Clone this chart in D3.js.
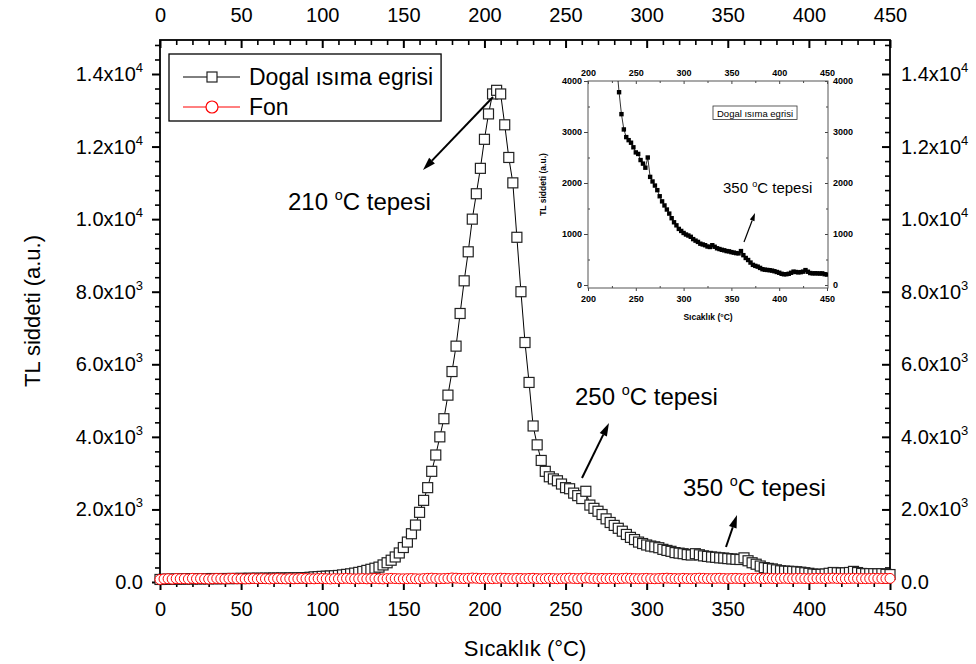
<!DOCTYPE html>
<html><head><meta charset="utf-8">
<script src="https://cdn.jsdelivr.net/npm/d3@7"></script>
<style>body{margin:0;background:#fff} text{font-family:"Liberation Sans",Arial,sans-serif;fill:#000}</style>
</head><body><svg id="c" width="976" height="664"></svg>
<script>
// ---------- DATA ----------
const temperatures = [
0,2.5,5,7.5,10,12.5,15,17.5,20,22.5,
25,27.5,30,32.5,35,37.5,40,42.5,45,47.5,
50,52.5,55,57.5,60,62.5,65,67.5,70,72.5,
75,77.5,80,82.5,85,87.5,90,92.5,95,97.5,
100,102.5,105,107.5,110,112.5,115,117.5,120,122.5,
125,127.5,130,132.5,135,137.5,140,142.5,145,147.5,
150,152.5,155,157.5,160,162.5,165,167.5,170,172.5,
175,177.5,180,182.5,185,187.5,190,192.5,195,197.5,
200,202.5,205,207.5,210,212.5,215,217.5,220,222.5,
225,227.5,230,232.5,235,237.5,240,242.5,245,247.5,
250,252.5,255,257.5,260,262.5,265,267.5,270,272.5,
275,277.5,280,282.5,285,287.5,290,292.5,295,297.5,
300,302.5,305,307.5,310,312.5,315,317.5,320,322.5,
325,327.5,330,332.5,335,337.5,340,342.5,345,347.5,
350,352.5,355,357.5,360,362.5,365,367.5,370,372.5,
375,377.5,380,382.5,385,387.5,390,392.5,395,397.5,
400,402.5,405,407.5,410,412.5,415,417.5,420,422.5,
425,427.5,430,432.5,435,437.5,440,442.5,445,447.5,
450];
const dogalIsimaEgrisi = [
70,75,72,80,78,85,82,88,84,90,
86,92,88,95,90,93,96,94,98,95,
100,97,102,99,104,100,105,103,108,104,
110,107,112,110,115,118,120,130,140,148,
155,160,165,172,180,195,210,225,245,265,
290,320,350,380,410,470,530,600,690,800,
950,1100,1330,1570,1920,2250,2600,3050,3500,4000,
4500,5150,5800,6500,7400,8300,9100,10000,10700,11400,
12200,12900,13450,13550,13450,12600,11700,11000,9500,8000,
6600,5500,4300,3780,3350,3050,2900,2840,2790,2700,
2600,2570,2450,2380,2300,2500,2120,2030,1950,1860,
1740,1640,1560,1480,1400,1310,1230,1170,1100,1060,
1020,990,970,945,900,870,845,810,795,780,
755,745,780,750,720,705,690,680,665,660,
645,635,625,620,665,585,530,490,440,395,
375,360,335,310,300,295,290,282,270,255,
240,220,210,212,220,240,262,255,248,252,
262,292,260,235,228,230,228,225,228,212,
205];
const fon = [
70,85,90,80,95,88,92,85,100,90,
95,88,82,90,98,92,86,95,100,88,
92,85,90,96,88,94,90,85,92,98,
90,86,94,88,92,100,95,90,88,94,
96,90,85,92,88,95,100,92,86,90,
95,88,92,98,90,86,94,100,95,90,
88,92,96,90,85,94,100,105,98,92,
95,100,110,105,98,94,100,108,104,96,
100,95,92,98,104,100,96,92,100,96,
92,98,102,95,90,96,100,94,90,96,
100,105,98,94,100,108,102,96,92,98,
95,100,96,92,98,104,100,95,92,96,
100,94,90,96,100,105,98,95,92,100,
96,92,98,104,100,96,94,98,102,96,
92,98,100,95,90,96,100,104,98,94,
100,96,92,98,102,96,92,98,100,95,
92,96,100,98,94,100,104,98,95,92,
96,100,98,94,92,96,100,98,95,96,
98];
const xTicks = [0,50,100,150,200,250,300,350,400,450];
const yTicks = [0,2000,4000,6000,8000,10000,12000,14000];
const yTickBase = ["0.0","2.0x10","4.0x10","6.0x10","8.0x10","1.0x10","1.2x10","1.4x10"];
const yTickExp  = ["","3","3","3","3","4","4","4"];
const insetXTicks = [200,250,300,350,400,450];
const insetYTicks = [0,1000,2000,3000,4000];
const seriesNames = ["Dogal \u0131s\u0131ma egrisi","Fon"];
const xTitle = "S\u0131cakl\u0131k (\u00B0C)";
const yTitle = "TL siddeti (a.u.)";
const annotations = [
  {num:"210", x:288, y:210, ax1:493, ay1:97, ax2:423, ay2:170},
  {num:"250", x:575, y:405, ax1:582, ay1:478, ax2:609, ay2:423},
  {num:"350", x:683, y:496, ax1:726, ay1:547, ax2:737, ay2:515}
];

// ---------- CHART ----------
const svg = d3.select("#c");
const dogal = temperatures.map((t,i)=>({t, v:dogalIsimaEgrisi[i]}));
const fonData = temperatures.map((t,i)=>({t, v:fon[i]}));

const L=160, R=890, T=40, B=582;
const x = d3.scaleLinear().domain([0,450]).range([L,R]);
const y = d3.scaleLinear().domain([0,14000]).range([B,74]);

svg.append("defs").append("clipPath").attr("id","clipMain")
  .append("rect").attr("x",L-6).attr("y",T).attr("width",R-L+12).attr("height",B-T+6);

function styleAxis(g, sw){
  g.select(".domain").remove();
  g.selectAll("line").attr("stroke","#000").attr("stroke-width",sw);
  g.selectAll("text").style("font-size","20px").style("font-family","'Liberation Sans',Arial,sans-serif").attr("fill","#000");
  return g;
}
const xMinor = d3.range(0,451,10).filter(v=>v%50!==0);
const yMinor = d3.range(0,14900,400).filter(v=>v%2000!==0);

// bottom
styleAxis(svg.append("g").attr("transform",`translate(0,${B})`)
  .call(d3.axisBottom(x).tickValues(xTicks).tickSize(8).tickPadding(12).tickFormat(d=>d)),2);
styleAxis(svg.append("g").attr("transform",`translate(0,${B})`)
  .call(d3.axisBottom(x).tickValues(xMinor).tickSize(5).tickFormat("")),1.6);
// top
styleAxis(svg.append("g").attr("transform",`translate(0,${T})`)
  .call(d3.axisTop(x).tickValues(xTicks).tickSizeInner(-8).tickSizeOuter(0).tickPadding(18).tickFormat(d=>d)),2);
styleAxis(svg.append("g").attr("transform",`translate(0,${T})`)
  .call(d3.axisTop(x).tickValues(xMinor).tickSizeInner(-5).tickSizeOuter(0).tickFormat("")),1.6);
// left
styleAxis(svg.append("g").attr("transform",`translate(${L},0)`)
  .call(d3.axisLeft(y).tickValues(yTicks).tickSize(8).tickFormat("")),2);
styleAxis(svg.append("g").attr("transform",`translate(${L},0)`)
  .call(d3.axisLeft(y).tickValues(yMinor).tickSize(5).tickFormat("")),1.6);
// right
styleAxis(svg.append("g").attr("transform",`translate(${R},0)`)
  .call(d3.axisRight(y).tickValues(yTicks).tickSizeInner(-8).tickSizeOuter(0).tickFormat("")),2);
styleAxis(svg.append("g").attr("transform",`translate(${R},0)`)
  .call(d3.axisRight(y).tickValues(yMinor).tickSizeInner(-5).tickSizeOuter(0).tickFormat("")),1.6);

function yLabel(g, v, i, xpos, anchor){
  const t = g.append("text").attr("x",xpos).attr("y",y(v)+7).attr("text-anchor",anchor)
    .style("font-size","20px");
  t.append("tspan").text(yTickBase[i]);
  if(yTickExp[i]) t.append("tspan").attr("dy",-9).style("font-size","13px").text(yTickExp[i]);
}
const yl = svg.append("g");
yTicks.forEach((v,i)=>{ yLabel(yl,v,i,143,"end"); yLabel(yl,v,i,901,"start"); });

// frame
svg.append("rect").attr("x",L).attr("y",T).attr("width",R-L).attr("height",B-T)
  .attr("fill","none").attr("stroke","#000").attr("stroke-width",1.8);

// titles
svg.append("text").attr("x",(L+R)/2).attr("y",656).attr("text-anchor","middle")
  .style("font-size","22px").text(xTitle);
svg.append("text").attr("transform",`translate(40,${(T+B)/2}) rotate(-90)`).attr("text-anchor","middle")
  .style("font-size","22px").text(yTitle);

// data
const plot = svg.append("g").attr("clip-path","url(#clipMain)");
const line = d3.line().x(d=>x(d.t)).y(d=>y(d.v));
plot.append("path").datum(dogal).attr("d",line).attr("fill","none").attr("stroke","#000").attr("stroke-width",1);
plot.selectAll("rect.sq").data(dogal).join("rect").attr("class","sq")
  .attr("x",d=>x(d.t)-5).attr("y",d=>y(d.v)-5).attr("width",10).attr("height",10)
  .attr("fill","#fff").attr("stroke","#222").attr("stroke-width",1.2);
plot.append("path").datum(fonData).attr("d",line).attr("fill","none").attr("stroke","#ff0000").attr("stroke-width",1);
plot.selectAll("circle.fc").data(fonData).join("circle").attr("class","fc")
  .attr("cx",d=>x(d.t)).attr("cy",d=>y(d.v)).attr("r",5)
  .attr("fill","#fff").attr("stroke","#ff0000").attr("stroke-width",1);

// legend
const lg = svg.append("g");
const lbox = lg.append("rect").attr("x",169).attr("y",54).attr("height",67)
  .attr("fill","#fff").attr("stroke","#000").attr("stroke-width",1.3);
let maxEnd = 0;
seriesNames.forEach((name,i)=>{
  const cy = 77 + i*30;
  const col = i===0 ? "#000" : "#ff0000";
  lg.append("line").attr("x1",183).attr("x2",240).attr("y1",cy).attr("y2",cy).attr("stroke",col).attr("stroke-width",1);
  if(i===0) lg.append("rect").attr("x",207).attr("y",cy-5).attr("width",10).attr("height",10).attr("fill","#fff").attr("stroke","#222").attr("stroke-width",1.2);
  else lg.append("circle").attr("cx",212).attr("cy",cy).attr("r",6).attr("fill","#fff").attr("stroke","#ff0000").attr("stroke-width",1.2);
  const t = lg.append("text").attr("x",249).attr("y",cy+8).style("font-size","23px").text(name);
  maxEnd = Math.max(maxEnd, 249 + t.node().getComputedTextLength());
});
lbox.attr("width", maxEnd + 8 - 169);

// annotations
function arrow(g, x1,y1,x2,y2, len, w, sw){
  const a = Math.atan2(y2-y1,x2-x1);
  const bx = x2 - len*Math.cos(a), by = y2 - len*Math.sin(a);
  g.append("line").attr("x1",x1).attr("y1",y1).attr("x2",bx).attr("y2",by).attr("stroke","#000").attr("stroke-width",sw);
  const px = -Math.sin(a)*w/2, py = Math.cos(a)*w/2;
  g.append("path").attr("d",`M${x2},${y2}L${bx+px},${by+py}L${bx-px},${by-py}Z`).attr("fill","#000");
}
function degLabel(g, num, xp, yp, fs){
  const t = g.append("text").attr("x",xp).attr("y",yp).style("font-size",fs+"px");
  t.append("tspan").text(num+" ");
  t.append("tspan").attr("dy",-fs*0.42).style("font-size",(fs*0.6)+"px").text("o");
  t.append("tspan").attr("dy",fs*0.42).text("C tepesi");
}
const ann = svg.append("g");
annotations.forEach(a=>{
  degLabel(ann, a.num, a.x, a.y, 24);
  arrow(ann, a.ax1,a.ay1,a.ax2,a.ay2, 13, 8, 2);
});

// ---------- INSET ----------
const iL=588, iR=828, iT=81, iB=288;
const xi = d3.scaleLinear().domain([200,450]).range([iL,827]);
const yi = d3.scaleLinear().domain([0,4000]).range([285,iT]);
svg.select("defs").append("clipPath").attr("id","clipInset")
  .append("rect").attr("x",iL).attr("y",iT).attr("width",iR-iL).attr("height",iB-iT);
const ins = svg.append("g");
function styleInset(g){
  g.select(".domain").remove();
  g.selectAll("line").attr("stroke","#444").attr("stroke-width",1);
  g.selectAll("text").style("font-size","9px").style("font-weight","bold").attr("fill","#000");
  return g;
}
const xiMinor = [225,275,325,375,425];
const yiMinor = [500,1500,2500,3500];
styleInset(ins.append("g").attr("transform",`translate(0,${iB})`)
  .call(d3.axisBottom(xi).tickValues(insetXTicks).tickSize(3).tickPadding(5).tickFormat(d=>d)));
styleInset(ins.append("g").attr("transform",`translate(0,${iB})`)
  .call(d3.axisBottom(xi).tickValues(xiMinor).tickSizeInner(-2).tickSizeOuter(0).tickFormat("")));
styleInset(ins.append("g").attr("transform",`translate(0,${iT})`)
  .call(d3.axisTop(xi).tickValues(insetXTicks).tickSizeInner(-3).tickSizeOuter(0).tickPadding(5).tickFormat(d=>d)));
styleInset(ins.append("g").attr("transform",`translate(0,${iT})`)
  .call(d3.axisTop(xi).tickValues(xiMinor).tickSizeInner(-2).tickSizeOuter(0).tickFormat("")));
styleInset(ins.append("g").attr("transform",`translate(${iL},0)`)
  .call(d3.axisLeft(yi).tickValues(insetYTicks).tickSize(4).tickPadding(2).tickFormat(d=>d)));
styleInset(ins.append("g").attr("transform",`translate(${iL},0)`)
  .call(d3.axisLeft(yi).tickValues(yiMinor).tickSizeInner(-2).tickSizeOuter(0).tickFormat("")));
styleInset(ins.append("g").attr("transform",`translate(${iR},0)`)
  .call(d3.axisRight(yi).tickValues(insetYTicks).tickSizeInner(-3).tickSizeOuter(0).tickPadding(5).tickFormat(d=>d)));
styleInset(ins.append("g").attr("transform",`translate(${iR},0)`)
  .call(d3.axisRight(yi).tickValues(yiMinor).tickSizeInner(-2).tickSizeOuter(0).tickFormat("")));
ins.append("rect").attr("x",iL).attr("y",iT).attr("width",iR-iL).attr("height",iB-iT)
  .attr("fill","none").attr("stroke","#555").attr("stroke-width",1);
ins.append("text").attr("x",(iL+iR)/2).attr("y",320).attr("text-anchor","middle")
  .style("font-size","8.5px").style("font-weight","bold").text(xTitle);
ins.append("text").attr("transform",`translate(546,${(iT+iB)/2}) rotate(-90)`).attr("text-anchor","middle")
  .style("font-size","8.5px").style("font-weight","bold").text(yTitle);
const insetData = dogal.filter(d=>d.t>=225);
const lineI = d3.line().x(d=>xi(d.t)).y(d=>yi(d.v));
const ip = ins.append("g").attr("clip-path","url(#clipInset)");
ip.append("path").datum(insetData).attr("d",lineI).attr("fill","none").attr("stroke","#000").attr("stroke-width",0.8);
ip.selectAll("rect").data(insetData).join("rect")
  .attr("x",d=>xi(d.t)-2.2).attr("y",d=>yi(d.v)-2.2).attr("width",4.4).attr("height",4.4).attr("fill","#000");
// inset legend
const ilt = ins.append("text").attr("x",717).attr("y",116.5).style("font-size","9.5px").text(seriesNames[0]);
const ilw = ilt.node().getComputedTextLength();
ins.append("rect").attr("x",713).attr("y",106).attr("width",ilw+8).attr("height",13.5)
  .attr("fill","none").attr("stroke","#333").attr("stroke-width",0.8);
degLabel(ins, "350", 723, 193, 15);
arrow(ins, 744,242, 755,213, 8, 5, 1.2);
</script></body></html>
